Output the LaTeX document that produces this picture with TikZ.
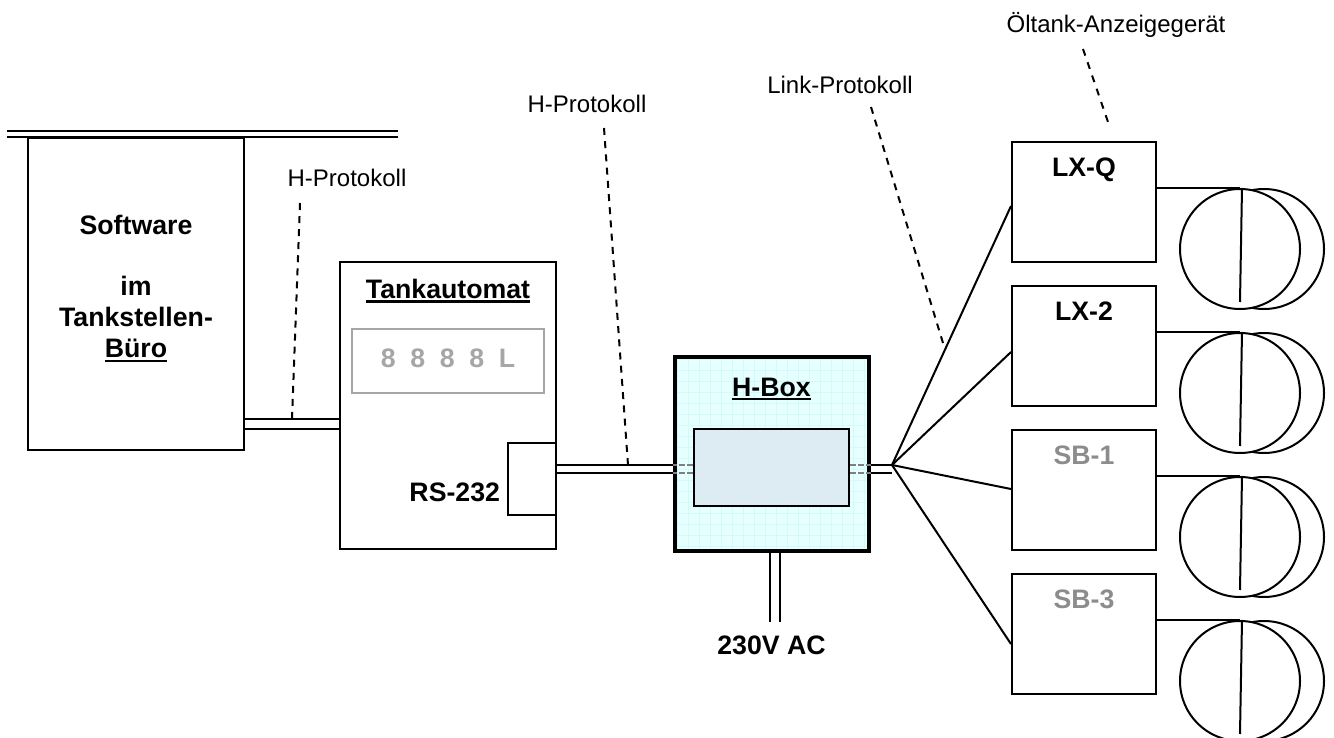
\documentclass[tikz,border=0pt]{standalone}
\usepackage{fontspec}
\setmainfont{Liberation Sans}
\usetikzlibrary{positioning}
\newcommand{\barred}[1]{\leavevmode\vtop{\hbox{#1}\kern1.5pt\hrule height 2.6pt}}
\definecolor{hboxfill}{HTML}{E6FFFF}
\definecolor{hboxgrid}{HTML}{D2FAFA}
\definecolor{hinner}{HTML}{DCECF2}
\definecolor{dispgray}{HTML}{A6A6A6}
\definecolor{sbgray}{HTML}{8C8C8C}

\begin{document}
\begin{tikzpicture}
        [
            x=1pt, y=-1pt,
            line width=2pt,
            unit/.style={rectangle, draw, inner sep=0pt, minimum width=#1},
            tank/.style={unit=144pt, minimum height=120pt},
            heading/.style={font=\fontsize{26.7}{31}\selectfont\bfseries, align=center, inner sep=0pt},
            remark/.style={font=\fontsize{24}{28}\selectfont, inner sep=0pt},
            tip/.style={dash pattern=on 7pt off #1},
            thru/.style={line width=1.5pt, gray, dash pattern=on 6pt off 2pt}
        ]
        \useasboundingbox (0,0) rectangle (1334,738);
        % left side
        \node (soft) [unit=216pt, minimum height=312pt] at (136,294) {};
        \node (softtext) [heading] at (136,289) {Software\\[30pt]im\\Tankstellen-\\\barred{Büro}};
        \node (auto) [unit=216pt, minimum height=287pt] at (448,405.5) {};
        \node (autotext) [heading] at (448,291) {\barred{Tankautomat}};
        \node (disp) [unit=192pt, minimum height=64pt, draw=dispgray] at (448,361) {};
        \node (disptext) [heading, text=dispgray] at (448,358) {8\hspace{.55em}8\hspace{.55em}8\hspace{.55em}8\hspace{.55em}L};
        \node (port) [unit=48pt, minimum height=72pt] at (532,479) {};
        \node (porttext) [heading, left=6pt of port, yshift=-13pt] {RS-232};
        \coordinate (roofa) at (7,131);
        \coordinate (roofb) at (398,131);
        \coordinate (roofc) at (7,137);
        \coordinate (roofd) at (398,137);
        \draw (roofa) -- (roofb);
        \draw (roofc) -- (roofd);
        % h-box
        \node (hboxback) [unit=194pt, minimum height=194pt, draw=none, fill=hboxfill] at (772,454) {};
        \draw [hboxgrid, line width=1pt, step=11pt, shift={(677,359)}] (0,0) grid (190,190);
        \node (hbox) [unit=194pt, minimum height=194pt, line width=4pt] at (772,454) {};
        \node (hboxtext) [heading] at (771.5,389) {\barred{H-Box}};
        \node (inner) [unit=155pt, minimum height=77pt, fill=hinner] at (771.5,467.5) {};
        \coordinate (fan) at (892,465);
        \coordinate (fanb) at (892,473);
        \coordinate (mainsa) at (770,622);
        \coordinate (mainsb) at (780,622);
        \node (mains) [heading] at (771.5,645) {230V AC};
        % double lines
        \draw (soft.east |- 0,419) -- (auto.west |- 0,419);
        \draw (soft.east |- 0,429) -- (auto.west |- 0,429);
        \foreach \y in {465, 473} {
            \draw (port.east |- 0,\y) -- (hbox.west |- 0,\y);
            \draw [thru] (inner.west |- 0,\y) -- (hbox.west |- 0,\y);
            \draw [thru] (inner.east |- 0,\y) -- (hbox.east |- 0,\y);
        }
        \draw (hbox.east |- fan) -- (fan);
        \draw (hbox.east |- fanb) -- (fanb);
        \draw (mainsa) -- (mainsa |- hbox.south);
        \draw (mainsb) -- (mainsb |- hbox.south);
        % tanks on the right
        \node (lxq) [tank] at (1084,202) {};
        \node (lxb) [tank, below=22pt of lxq] {};
        \node (sba) [tank, below=22pt of lxb] {};
        \node (sbb) [tank, below=22pt of sba] {};
        \foreach \i/\j/\c in {lxq/LX-Q/black, lxb/LX-2/black, sba/SB-1/sbgray, sbb/SB-3/sbgray}
            \node (\i text) [heading, text=\c, below=16pt of \i.north] {\j};
        \foreach \i/\a in {lxq/206, lxb/352, sba/489, sbb/644}
            \draw (fan) -- (\i.west |- 0,\a);
        \foreach \i in {lxq, lxb, sba, sbb} {
            \coordinate (\i c) at ([yshift=-47pt]\i.center);
            \node (\i back) [circle, draw, minimum size=120pt, inner sep=0pt] at ([xshift=180pt]\i c) {};
            \node (\i front) [circle, draw, fill=white, minimum size=120pt, inner sep=0pt] at ([xshift=156pt]\i c) {};
            \draw (\i.east |- \i front.north) -- (\i front.north);
            \draw ([xshift=2pt]\i front.north) -- ([yshift=8pt]\i front.south);
        }
        % labels
        \node (hproa) [remark] at (347,178) {H-Protokoll};
        \node (hprob) [remark] at (587,104) {H-Protokoll};
        \node (link) [remark] at (840,85) {Link-Protokoll};
        \node (oel) [remark] at (1116,25) {Öltank-Anzeigegerät};
        \coordinate (hproaend) at (292,419);
        \coordinate (hprobend) at (628,465);
        \coordinate (linkend) at (943,343);
        \coordinate (oelend) at (1108,122);
        \draw [tip=6.07pt] (300,203) -- (hproaend);
        \draw [tip=6.24pt] (604,128) -- (hprobend);
        \draw [tip=6.32pt] (871,107) -- (linkend);
        \draw [tip=7pt] (1083,49) -- (oelend);
    \end{tikzpicture}
\end{document}
